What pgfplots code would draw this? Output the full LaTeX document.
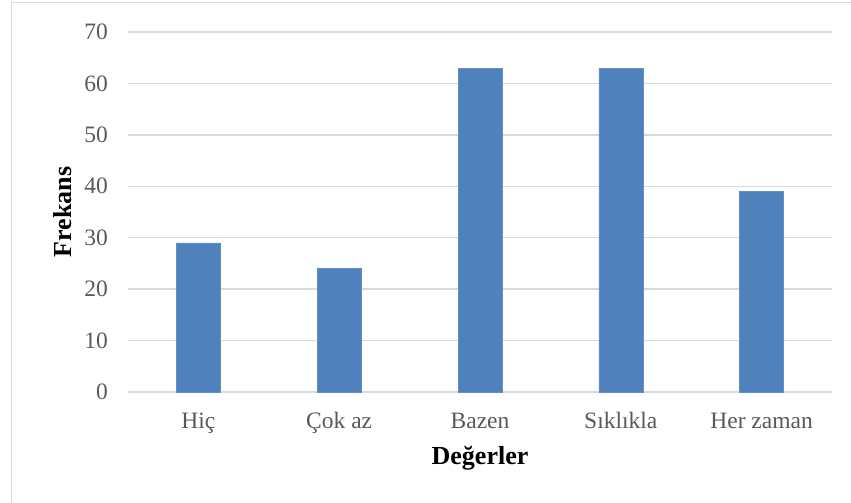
\documentclass[border=0pt]{standalone}
\usepackage{fontspec}
\setmainfont{Liberation Serif}
\usepackage{pgfplots}
\pgfplotsset{compat=1.18}

\definecolor{barblue}{HTML}{4F81BD}
\definecolor{gridgray}{HTML}{D9D9D9}
\definecolor{labelgray}{HTML}{595959}

\begin{document}
\begin{tikzpicture}[x=1pt,y=1pt]
  % chart frame
  \useasboundingbox (0,0) rectangle (851,-503);
  \draw[gridgray, line width=1.5pt] (11.5,-503) -- (11.5,-2.5) -- (851,-2.5);

  \begin{axis}[
    at={(128pt,-392pt)}, anchor=south west,
    scale only axis, width=704pt, height=360pt,
    xmin=-0.5, xmax=4.5, ymin=0, ymax=70,
    ytick={0,10,...,70},
    xtick={0,1,2,3,4},
    xticklabels={Hiç, Çok az, Bazen, Sıklıkla, Her zaman},
    axis line style={draw=none},
    major tick length=0pt,
    ymajorgrids,
    grid style={gridgray, line width=1.5pt},
    tick label style={font=\fontsize{23.5}{28}\selectfont, text=labelgray},
    yticklabel style={anchor=east, inner sep=0pt, xshift=-20pt},
    xticklabel style={anchor=base, inner sep=0pt, yshift=-36pt},
    /pgf/number format/assume math mode=true,
    xlabel={Değerler},
    ylabel={Frekans},
    label style={font=\fontsize{26}{30}\selectfont\bfseries, text=black},
    xlabel style={at={(axis description cs:0.5,-0.2014)}, anchor=base, inner sep=0pt},
    ylabel style={at={(axis description cs:-0.0803,0.5)}, anchor=base, rotate=0, inner sep=0pt},
    clip=false,
  ]
    \addplot[ybar, bar width=44pt, bar shift=0pt, fill=barblue, draw=barblue!90!white, line width=0.6pt]
      coordinates {(0,29) (1,24) (2,63) (3,63) (4,39)};
  \end{axis}
\end{tikzpicture}
\end{document}
